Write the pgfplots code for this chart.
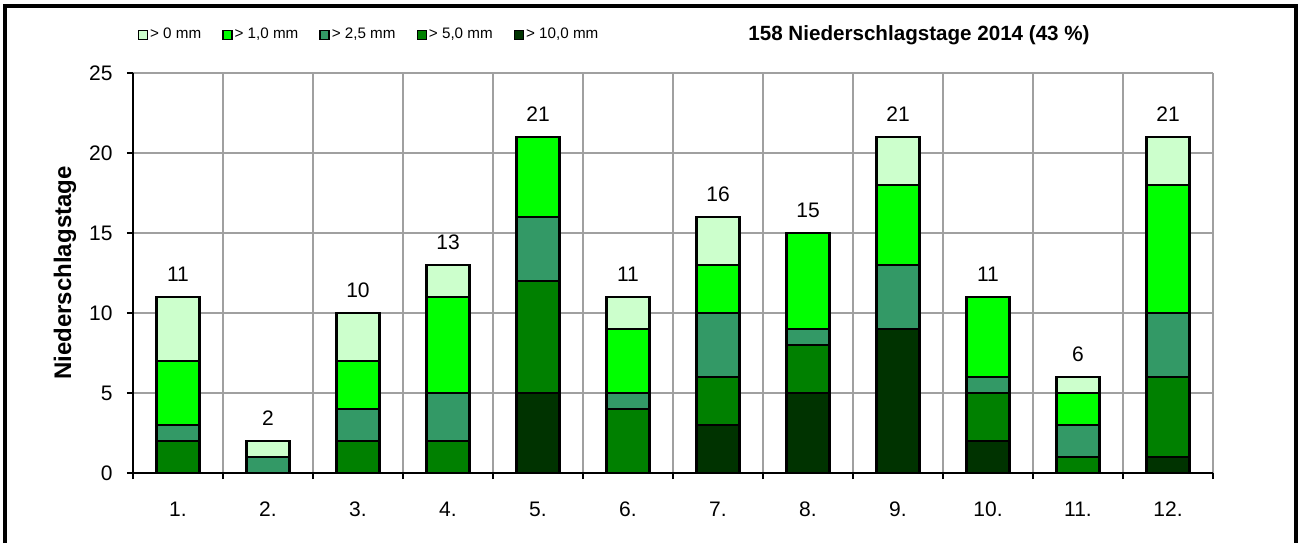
\documentclass[border=0pt]{standalone}
\usepackage{fontspec}
\setmainfont{Liberation Sans}
\usepackage{pgfplots}
\pgfplotsset{compat=1.18}
\usepackage{pgfplotstable}

\definecolor{c0}{HTML}{CCFFCC}
\definecolor{c1}{HTML}{00FF00}
\definecolor{c25}{HTML}{339966}
\definecolor{c5}{HTML}{008000}
\definecolor{c10}{HTML}{003300}
\definecolor{gridgray}{HTML}{A0A0A0}

% Niederschlagstage je Monat, Segmente von unten nach oben
\pgfplotstableread{
m d10 d5 d25 d1 d0 tot
1  0 2 1 4 4 11
2  0 0 1 0 1 2
3  0 2 2 3 3 10
4  0 2 3 6 2 13
5  5 7 4 5 0 21
6  0 4 1 4 2 11
7  3 3 4 3 3 16
8  5 3 1 6 0 15
9  9 0 4 5 3 21
10 2 3 1 5 0 11
11 0 1 2 2 1 6
12 1 5 4 8 3 21
}\niederschlag

\pgfplotsset{
  myleg/.style={legend image code/.code={%
    \draw[##1,line width=0.7pt] (0pt,-2.25pt) rectangle (4.5pt,2.25pt);}},
  mybar/.style={fill=#1, draw=black, line width=1.3pt, myleg},
  samebox/.style={at={(66.5pt,35pt)}, anchor=south west,
    scale only axis, width=540pt, height=200pt,
    xmin=0.5, xmax=12.5, ymin=0, ymax=25, enlargelimits=false,
    /pgf/number format/assume math mode=true},
}

\begin{document}
\begin{tikzpicture}
\useasboundingbox (0,0) rectangle (649pt,271.5pt);
\draw[line width=2pt] (2.25pt,0) -- (2.25pt,268.5pt) -- (648pt,268.5pt) -- (648pt,0);
\begin{axis}[
  samebox,
  ybar stacked, bar width=21.5pt,
  xtick={1,...,12},
  xticklabels={1.,2.,3.,4.,5.,6.,7.,8.,9.,10.,11.,12.},
  minor xtick={0.5,1.5,...,12.5},
  ytick={0,5,...,25},
  xminorgrids=true, ymajorgrids=true, xmajorgrids=false,
  grid style={gridgray, line width=0.6pt},
  minor grid style={gridgray, line width=0.6pt},
  tick align=outside, major tick length=3pt, minor tick length=3pt,
  major x tick style={draw=none},
  minor x tick style={black, line width=0.6pt},
  major y tick style={black, line width=0.6pt},
  axis x line*=bottom, axis y line*=left,
  x axis line style={-, black, line width=0.7pt},
  y axis line style={-, black, line width=0.7pt},
  tick label style={font=\fontsize{10.5}{12}\selectfont},
  xticklabel style={inner sep=0pt, anchor=north, text height=7.6pt, text depth=0pt, yshift=-11pt},
  yticklabel style={inner sep=0pt, anchor=east, xshift=-7pt},
  ylabel={Niederschlagstage},
  ylabel style={font=\bfseries\fontsize{12}{14}\selectfont,
    at={(axis description cs:-0.063,0.5)}, anchor=center},
  legend style={at={(axis description cs:0.004,1.095)}, anchor=west,
    draw=none, fill=none, inner sep=0pt,
    font=\fontsize{7.6}{9}\selectfont,
    nodes={inner sep=1pt},
    /tikz/every even column/.append style={column sep=9.5pt}},
  legend columns=-1,
  reverse legend,
]
\addplot[mybar=c10] table[x=m,y=d10]{\niederschlag};
\addplot[mybar=c5]  table[x=m,y=d5]{\niederschlag};
\addplot[mybar=c25] table[x=m,y=d25]{\niederschlag};
\addplot[mybar=c1]  table[x=m,y=d1]{\niederschlag};
\addplot[mybar=c0]  table[x=m,y=d0]{\niederschlag};
\legend{{> 10,0 mm},{> 5,0 mm},{> 2,5 mm},{> 1,0 mm},{> 0 mm}}
\end{axis}
% Summen ueber den Saeulen
\begin{axis}[samebox, hide axis, clip=false]
\addplot[draw=none, mark=none, nodes near coords, point meta=explicit,
  every node near coord/.append style={font=\fontsize{10.5}{12}\selectfont,
    inner sep=0pt, anchor=south, yshift=7.5pt, black}]
  table[x=m,y=tot,meta=tot]{\niederschlag};
\end{axis}
\node[anchor=west, inner sep=0pt, font=\bfseries\fontsize{10.3}{12}\selectfont]
  at (374pt,254pt) {158 Niederschlagstage 2014 (43 \%)};
\end{tikzpicture}
\end{document}
